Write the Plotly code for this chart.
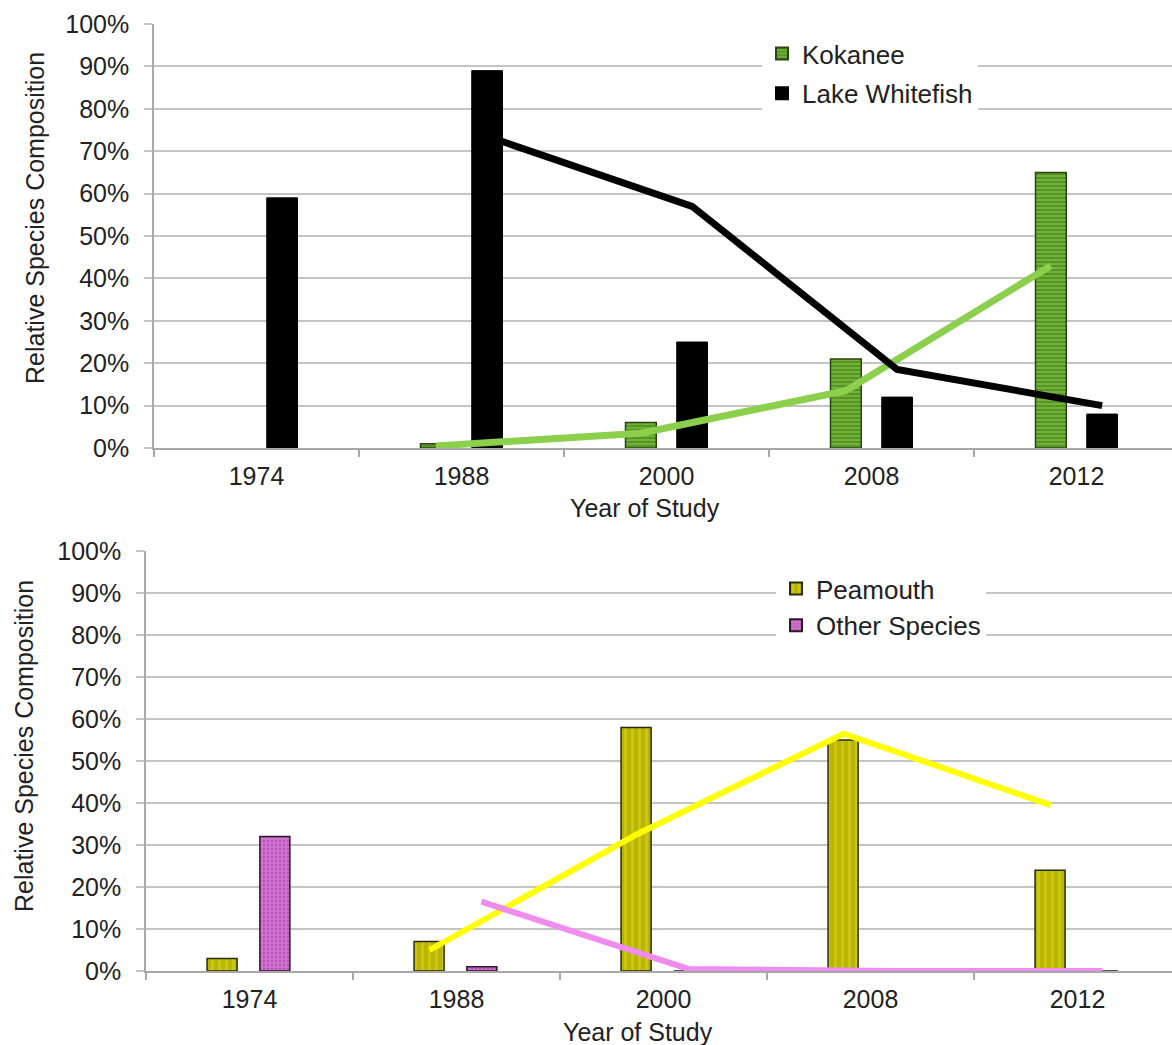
import plotly.graph_objects as go

W, H = 1172, 1045

years = ["1974", "1988", "2000", "2008", "2012"]

# Bar values (% of catch)
kokanee = [None, 1, 6, 21, 65]
lake_whitefish = [59, 89, 25, 12, 8]
peamouth = [3, 7, 58, 55, 24]
other_species = [32, 1, 0, 0, 0]

# Two-period moving-average trend lines
kokanee_trend = [None, 0.5, 3.5, 13.5, 43]
lake_whitefish_trend = [None, 73.5, 57, 18.5, 10]
peamouth_trend = [None, 5, 32.5, 56.5, 39.5]
other_species_trend = [None, 16.5, 0.5, 0, 0]

yticks = list(range(0, 101, 10))
ytick_text = [f"{v}%" for v in yticks]

FONT = "Liberation Sans, Arial, sans-serif"
TXT = "#222222"
GRID = "#c4c4c4"
TICK_SIZE = 25
TITLE_SIZE = 25
LEGEND_SIZE = 26


def px_x(p):
    return p / W


def px_y(p):
    return 1 - p / H


idx = list(range(len(years)))

fig = go.Figure()

# ---- top panel: Kokanee / Lake Whitefish
fig.add_trace(go.Bar(
    x=idx, y=kokanee, name="Kokanee", width=0.15, offset=-0.2,
    marker=dict(color="#6cae32",
                line=dict(color="#2a4410", width=1.5),
                pattern=dict(shape="-", fgcolor="#335f14", bgcolor="#70b436",
                             size=4, solidity=0.4)),
    xaxis="x", yaxis="y", legend="legend", legendgroup="k",
))
fig.add_trace(go.Bar(
    x=idx, y=lake_whitefish, name="Lake Whitefish", width=0.15, offset=0.05,
    marker=dict(color="#000000", line=dict(color="#000000", width=1)),
    xaxis="x", yaxis="y", legend="legend", legendgroup="w",
))
fig.add_trace(go.Scatter(
    x=[i - 0.125 for i in idx], y=kokanee_trend, mode="lines",
    line=dict(color="#8ccf4c", width=7), showlegend=False,
    xaxis="x", yaxis="y",
))
fig.add_trace(go.Scatter(
    x=[i + 0.125 for i in idx], y=lake_whitefish_trend, mode="lines",
    line=dict(color="#000000", width=7), showlegend=False,
    xaxis="x", yaxis="y",
))

# ---- bottom panel: Peamouth / Other Species
fig.add_trace(go.Bar(
    x=idx, y=peamouth, name="Peamouth", width=0.145, offset=-0.205,
    marker=dict(color="#c4c000",
                line=dict(color="#2a2a10", width=1.5),
                pattern=dict(shape="|", fgcolor="#e0dc30", bgcolor="#bab600",
                             size=7, solidity=0.35)),
    xaxis="x2", yaxis="y2", legend="legend2", legendgroup="p",
))
fig.add_trace(go.Bar(
    x=idx, y=other_species, name="Other Species", width=0.145, offset=0.05,
    marker=dict(color="#cc66cc",
                line=dict(color="#2a1a2a", width=1.5),
                pattern=dict(shape=".", fgcolor="#9a3c9a", bgcolor="#d070d0",
                             size=4, solidity=0.3)),
    xaxis="x2", yaxis="y2", legend="legend2", legendgroup="o",
))
fig.add_trace(go.Scatter(
    x=[i - 0.13 for i in idx], y=peamouth_trend, mode="lines",
    line=dict(color="#ffff00", width=6), showlegend=False,
    xaxis="x2", yaxis="y2",
))
fig.add_trace(go.Scatter(
    x=[i + 0.12 for i in idx], y=other_species_trend, mode="lines",
    line=dict(color="#f08cf0", width=6), showlegend=False,
    xaxis="x2", yaxis="y2",
))


def xaxis_cfg(left_px, cat_px):
    return dict(
        domain=[px_x(left_px), 1],
        range=[-0.5, -0.5 + (W - left_px) / cat_px],
        tickmode="array", tickvals=idx, ticktext=years, ticks="",
        ticklabelstandoff=5,
        tickfont=dict(family=FONT, size=TICK_SIZE, color=TXT),
        showline=True, linecolor="#a8a8a8", linewidth=1.5,
        showgrid=False, zeroline=False, fixedrange=True,
        minor=dict(tickmode="linear", tick0=0.5, dtick=1, ticks="outside",
                   ticklen=7, tickwidth=1.5, tickcolor="#a8a8a8", showgrid=False),
        automargin=False,
    )


def yaxis_cfg(top_px, bottom_px, anchor):
    return dict(
        domain=[px_y(bottom_px), px_y(top_px)],
        range=[0, 100], tickmode="array", tickvals=yticks, ticktext=ytick_text,
        tickfont=dict(family=FONT, size=TICK_SIZE, color=TXT),
        ticks="outside", ticklen=8, tickwidth=1.5, tickcolor=GRID,
        ticklabelstandoff=10,
        showgrid=True, gridcolor=GRID, gridwidth=1.5,
        showline=True, linecolor="#a8a8a8", linewidth=1.5,
        zeroline=False, anchor=anchor, fixedrange=True, automargin=False,
    )


legend_common = dict(
    bgcolor="#ffffff", borderwidth=0,
    font=dict(family=FONT, size=LEGEND_SIZE, color=TXT),
    xanchor="left", yanchor="top",
    traceorder="grouped", itemsizing="constant",
)


def title_note(text, x_px, y_px, angle=0):
    return dict(text=text, x=px_x(x_px), y=px_y(y_px),
                xref="paper", yref="paper", showarrow=False, textangle=angle,
                xanchor="center", yanchor="middle",
                font=dict(family=FONT, size=TITLE_SIZE, color=TXT))


fig.update_layout(
    width=W, height=H,
    margin=dict(l=0, r=0, t=0, b=0),
    paper_bgcolor="#ffffff", plot_bgcolor="#ffffff",
    barmode="overlay",
    showlegend=True,
    xaxis=dict(xaxis_cfg(154, 205), anchor="y"),
    yaxis=yaxis_cfg(24, 448, "x"),
    xaxis2=dict(xaxis_cfg(146, 207), anchor="y2"),
    yaxis2=yaxis_cfg(551, 971, "x2"),
    legend=dict(legend_common, x=px_x(762), y=px_y(30), tracegroupgap=3),
    legend2=dict(legend_common, x=px_x(776), y=px_y(565), tracegroupgap=0),
    annotations=[
        title_note("Relative Species Composition", 35, 218, -90),
        title_note("Year of Study", 645, 508),
        title_note("Relative Species Composition", 24, 746, -90),
        title_note("Year of Study", 638, 1032),
    ],
)

fig.write_html("out.html")
